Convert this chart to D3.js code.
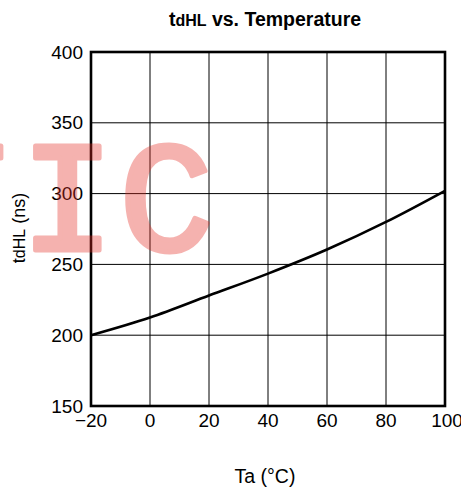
<!DOCTYPE html>
<html><head><meta charset="utf-8">
<script src="https://cdn.jsdelivr.net/npm/d3@7"></script>
<style>body{margin:0;background:#fff}svg{display:block}</style>
</head><body>
<svg id="c" width="461" height="495"></svg>
<script>
const temps = [-20, 0, 20, 40, 60, 80, 100];
const tdHL = [200, 212.5, 228, 243.5, 260.5, 280, 302];
const xTicks = [-20, 0, 20, 40, 60, 80, 100];
const yTicks = [150, 200, 250, 300, 350, 400];

const svg = d3.select("#c");
const L = 91, R = 445, T = 52, B = 406;
const x = d3.scaleLinear().domain([-20, 100]).range([L, R]);
const y = d3.scaleLinear().domain([150, 400]).range([B, T]);
const font = "Arial, 'Liberation Sans', sans-serif";

// grid
svg.append("g").selectAll("line").data(xTicks.slice(1, -1)).join("line")
  .attr("x1", d => x(d)).attr("x2", d => x(d)).attr("y1", T).attr("y2", B)
  .attr("stroke", "#000").attr("stroke-width", 1);
svg.append("g").selectAll("line").data(yTicks.slice(1, -1)).join("line")
  .attr("y1", d => y(d)).attr("y2", d => y(d)).attr("x1", L).attr("x2", R)
  .attr("stroke", "#000").attr("stroke-width", 1);

// curve
const line = d3.line().x((d, i) => x(temps[i])).y(d => y(d)).curve(d3.curveMonotoneX);
svg.append("path").attr("d", line(tdHL)).attr("fill", "none")
  .attr("stroke", "#000").attr("stroke-width", 2.6);

// frame
svg.append("rect").attr("x", L).attr("y", T).attr("width", R - L).attr("height", B - T)
  .attr("fill", "none").attr("stroke", "#000").attr("stroke-width", 2.6);

// tick labels
svg.append("g").selectAll("text").data(xTicks).join("text")
  .attr("x", d => x(d) + (d === 100 ? 2 : 0)).attr("y", 427).attr("text-anchor", "middle")
  .attr("font-family", font).attr("font-size", 19)
  .text(d => String(d).replace("-", "\u2212"));
svg.append("g").selectAll("text").data(yTicks).join("text")
  .attr("x", 83).attr("y", d => y(d)).attr("dy", "0.35em")
  .attr("text-anchor", "end")
  .attr("font-family", font).attr("font-size", 19).text(d => d);

// title
const title = svg.append("text").attr("x", 265).attr("y", 26).attr("text-anchor", "middle")
  .attr("font-family", font).attr("font-weight", "bold").attr("font-size", 19.5);
title.append("tspan").text("t");
title.append("tspan").attr("font-size", 16).text("dHL");
title.append("tspan").text(" vs. Temperature");

// axis titles
svg.append("text").attr("x", 265).attr("y", 483).attr("text-anchor", "middle")
  .attr("font-family", font).attr("font-size", 19.5).text("Ta (\u00B0C)");
const yl = svg.append("text").attr("transform", "translate(25,228) rotate(-90)")
  .attr("text-anchor", "middle").attr("font-family", font).attr("font-size", 18);
yl.append("tspan").text("t");
yl.append("tspan").attr("font-size", 16).text("dHL");
yl.append("tspan").text(" (ns)");

// watermark
svg.append("g").attr("opacity", 0.36)
  .append("text").attr("x", "-88 20 119").attr("y", 250)
  .attr("font-family", "'Liberation Mono', 'Courier New', monospace")
  .attr("font-size", 158)
  .attr("fill", "rgb(228,45,35)").attr("stroke", "rgb(228,45,35)")
  .attr("stroke-width", 5).attr("stroke-linejoin", "round").text("TIC");
</script>
</body></html>
